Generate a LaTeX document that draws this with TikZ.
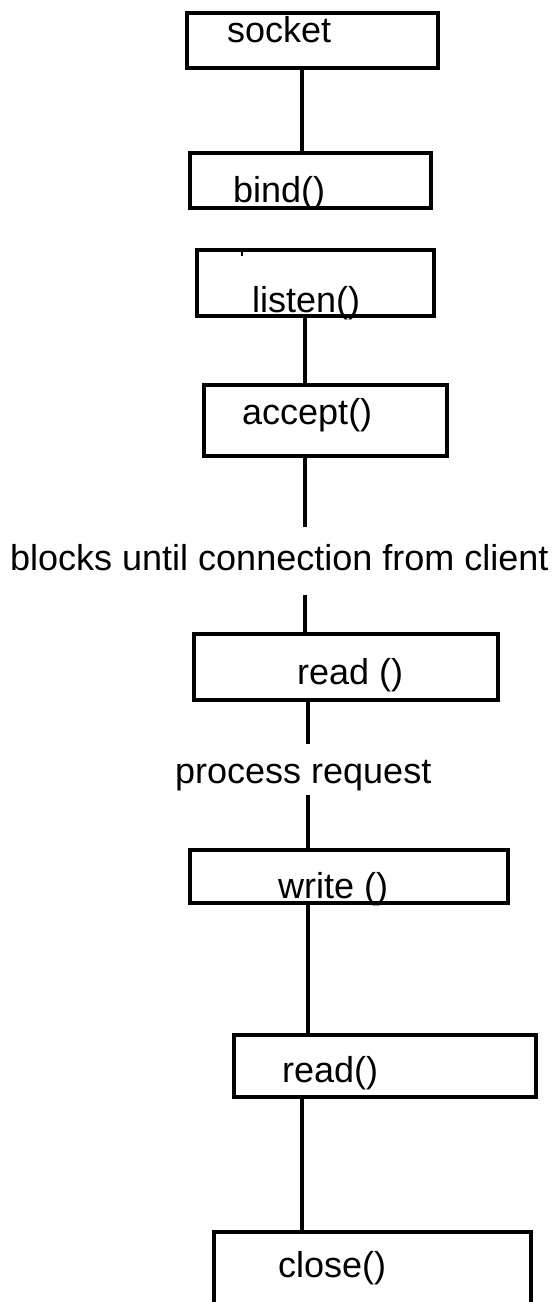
\documentclass[tikz,border=0pt]{standalone}
\usepackage{fontspec}
\setmainfont{Liberation Sans}
\begin{document}
\begin{tikzpicture}[x=1pt,y=-1pt,
  stage/.style={draw=black, line width=4pt, rectangle, inner sep=0pt},
  lbl/.style={inner sep=0pt, anchor=base west, font=\fontsize{36}{36}\selectfont},
  link/.style={draw=black, line width=3.3pt}]
\useasboundingbox (0,0) rectangle (557,1302);
\clip (0,0) rectangle (557,1302);
\fill[white] (0,0) rectangle (557,1302);

% boxes of the server calls
\node[stage, minimum width=251pt, minimum height=55pt] (socket) at (312.5,40.5) {};
\node[stage, minimum width=241pt, minimum height=55pt] (bind)   at (310.5,180.5) {};
\node[stage, minimum width=237pt, minimum height=66pt] (listen) at (315.5,283) {};
\node[stage, minimum width=243pt, minimum height=71pt] (accept) at (325.5,420.5) {};
\node[stage, minimum width=304pt, minimum height=66pt] (read)   at (346,667) {};
\node[stage, minimum width=318pt, minimum height=53pt] (write)  at (349,876.5) {};
\node[stage, minimum width=302pt, minimum height=62pt] (readb)  at (385,1066) {};
\node[stage, minimum width=317pt, minimum height=118pt] (close) at (372.5,1291) {};

% labels
\node[lbl] (socket-t) at (227,42)  {socket};
\node[lbl] (bind-t)   at (233,202) {bind()};
\node[lbl] (listen-t) at (252,312) {listen()};
\node[lbl] (accept-t) at (242,424) {accept()};
\node[lbl] (wait)     at (10,570)  {blocks until connection from client};
\node[lbl] (read-t)   at (297,684) {read ()};
\node[lbl] (proc)     at (175,783) {process request};
\node[lbl] (write-t)  at (278,898) {write ()};
\node[lbl] (readb-t)  at (282,1082) {read()};
\node[lbl] (close-t)  at (278,1277) {close()};

% small mark inside the listen box
\draw[line width=2pt] (242,250) -- (242,256);

% columns of the connectors
\coordinate (c1) at (302,0);
\coordinate (c2) at (305,0);
\coordinate (c3) at (308,0);
\coordinate (c4) at (302,0);

\draw[link] (socket.south -| c1) -- (bind.north -| c1);
\draw[link] (listen.south -| c2) -- (accept.north -| c2);
\draw[link] (accept.south -| c2) -- ([yshift=17pt]wait.north -| c2);
\draw[link] ([yshift=-24pt]wait.south -| c2) -- (read.north -| c2);
\draw[link] (read.south -| c3) -- ([yshift=16pt]proc.north -| c3);
\draw[link] ([yshift=-4pt]proc.south -| c3) -- (write.north -| c3);
\draw[link] (write.south -| c3) -- (readb.north -| c3);
\draw[link] (readb.south -| c4) -- (close.north -| c4);
\end{tikzpicture}
\end{document}
